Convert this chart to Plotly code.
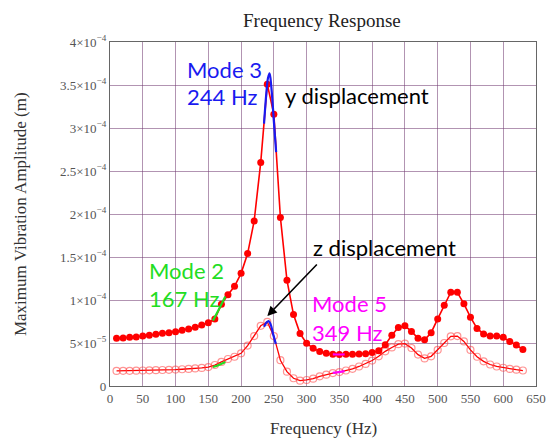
import numpy as np
import plotly.graph_objects as go

# ---- data (amplitudes in units of 1e-5 m) ----
freq = list(range(10, 640, 10))
y_disp = [5.55, 5.58, 5.66, 5.70, 5.81, 5.89, 6.01, 6.12, 6.20, 6.32, 6.47, 6.63, 6.82, 7.09, 7.36,
          7.80, 9.50, 10.6, 11.6, 13.1, 15.4, 19.2, 26.0, 35.1, 31.6, 19.6, 12.3, 8.3, 6.1, 4.96,
          4.40, 4.00, 3.80, 3.70, 3.66, 3.68, 3.70, 3.72, 3.76, 3.90, 4.10, 4.80, 5.90, 6.80, 7.00,
          6.35, 5.55, 5.37, 6.20, 7.80, 9.40, 10.9, 10.9, 9.55, 8.00, 6.70, 6.05, 5.82, 5.80, 5.66,
          5.18, 4.77, 4.25]
z_disp = [1.75, 1.76, 1.77, 1.78, 1.80, 1.82, 1.84, 1.86, 1.88, 1.91, 1.95, 1.99, 2.04, 2.10, 2.20,
          2.44, 2.80, 3.14, 3.40, 3.80, 4.70, 5.80, 7.00, 7.45, 5.80, 3.00, 1.67, 0.90, 0.62, 0.70,
          0.85, 1.12, 1.32, 1.50, 1.62, 1.80, 2.00, 2.27, 2.57, 2.96, 3.45, 4.03, 4.48, 4.86, 4.93,
          4.42, 3.65, 3.21, 3.45, 4.20, 5.00, 5.78, 5.80, 5.18, 4.20, 3.40, 2.87, 2.50, 2.27, 2.12,
          1.99, 1.90, 1.80]

# fine-resolution mode segments
m2_f = [157, 166, 176]
m2_y = [7.6, 8.9, 10.4]
m2_z = [2.2, 2.45, 2.8]
m3_f_y = [235, 238.5, 241, 243.5, 246, 248, 250, 253.5]
m3_y = [30.5, 34.0, 35.8, 36.35, 34.9, 33.0, 30.8, 27.2]
m3_f_z = [235, 239, 242, 245, 249, 253]
m3_z = [6.9, 7.4, 7.55, 7.2, 6.0, 4.9]
m5_f = [340, 349, 358]
m5_y = [3.68, 3.66, 3.68]
m5_z = [1.52, 1.62, 1.72]

xticks = list(range(0, 700, 50))
yticks = [0, 5e-5, 1e-4, 1.5e-4, 2e-4, 2.5e-4, 3e-4, 3.5e-4, 4e-4]
yticktext = ["0", "5×10<sup>−5</sup>", "1×10<sup>−4</sup>", "1.5×10<sup>−4</sup>", "2×10<sup>−4</sup>",
             "2.5×10<sup>−4</sup>", "3×10<sup>−4</sup>", "3.5×10<sup>−4</sup>", "4×10<sup>−4</sup>"]

S = 1e-5
def sc(a):
    return [v * S for v in a]

RED = "#FF0000"
BLUE = "#1A1AF0"
GREEN = "#22DD22"
MAG = "#FF00FF"

fig = go.Figure()
fig.add_trace(go.Scatter(x=freq, y=sc(z_disp), mode="lines+markers",
                         line=dict(color=RED, width=1.3),
                         marker=dict(symbol="circle-open", size=7, color="rgba(255,60,60,0.55)",
                                     line=dict(width=1.2)), showlegend=False))
fig.add_trace(go.Scatter(x=freq, y=sc(y_disp), mode="lines+markers",
                         line=dict(color=RED, width=1.6),
                         marker=dict(symbol="circle", size=7, color=RED), showlegend=False))
for fx, fy, col in [(m2_f, m2_y, GREEN), (m2_f, m2_z, GREEN), (m3_f_y, m3_y, BLUE),
                    (m3_f_z, m3_z, BLUE), (m5_f, m5_y, MAG), (m5_f, m5_z, MAG)]:
    fig.add_trace(go.Scatter(x=fx, y=sc(fy), mode="lines", line=dict(color=col, width=2.2),
                             line_shape="spline", showlegend=False))

L, R, T, B = 110, 546, 42, 386
def px(x):
    return (x - L) / (R - L)
def py(y):
    return (B - y) / (B - T)

ann = []
def txt(s, x, base, col, size=22):
    ann.append(dict(text=s, x=px(x), y=py(base - 0.33 * size), xref="paper", yref="paper",
                    xanchor="left", yanchor="middle", showarrow=False,
                    font=dict(family="Lato", size=size, color=col)))

txt("Mode 3", 187, 77, BLUE)
txt("244 Hz", 187, 104, BLUE)
txt("y displacement", 287, 103, "black")
txt("z displacement", 316, 255, "black")
txt("Mode 2", 148, 278, GREEN)
txt("167 Hz", 148, 306, GREEN)
txt("Mode 5", 315, 311, MAG)
txt("349 Hz", 315, 340, MAG)

ann.append(dict(x=240, y=0.814e-4, xref="x", yref="y", ax=51, ay=-53, axref="pixel", ayref="pixel",
                text="", showarrow=True, arrowhead=2, arrowsize=1.2, arrowwidth=1.6,
                arrowcolor="black"))
ann.append(dict(text="Maximum Vibration Amplitude (m)", x=px(18), y=0.5, xref="paper", yref="paper",
                textangle=-90, showarrow=False, xanchor="center", yanchor="middle",
                font=dict(family="Liberation Serif", size=17, color="#333")))
ann.append(dict(text="Frequency (Hz)", x=0.5, y=py(428), xref="paper", yref="paper",
                showarrow=False, xanchor="center", yanchor="middle",
                font=dict(family="Liberation Serif", size=17, color="#333")))
ann.append(dict(text="Frequency Response", x=px(327), y=py(21), xref="paper", yref="paper",
                showarrow=False, xanchor="center", yanchor="middle",
                font=dict(family="Liberation Serif", size=19, color="#222")))

GRID = "rgba(115,60,115,0.55)"
fig.update_layout(
    width=558, height=438,
    margin=dict(l=L, r=558 - R, t=T, b=438 - B),
    paper_bgcolor="white", plot_bgcolor="white",
    annotations=ann,
    xaxis=dict(range=[0, 650], tickvals=xticks, ticks="", showgrid=True, gridcolor=GRID, gridwidth=1,
               zeroline=False, showline=True, linecolor="#666", linewidth=1.2, mirror=True,
               tickfont=dict(family="Liberation Serif", size=13, color="#555")),
    yaxis=dict(range=[0, 4e-4], tickvals=yticks, ticktext=yticktext, ticks="", showgrid=True,
               gridcolor=GRID, gridwidth=1, zeroline=False, showline=True, linecolor="#666",
               linewidth=1.2, mirror=True,
               tickfont=dict(family="Liberation Serif", size=13, color="#555")),
)
fig.write_html("out.html", config={"displayModeBar": False},
               post_script="document.body.style.margin='0px';document.body.style.overflow='hidden';")
